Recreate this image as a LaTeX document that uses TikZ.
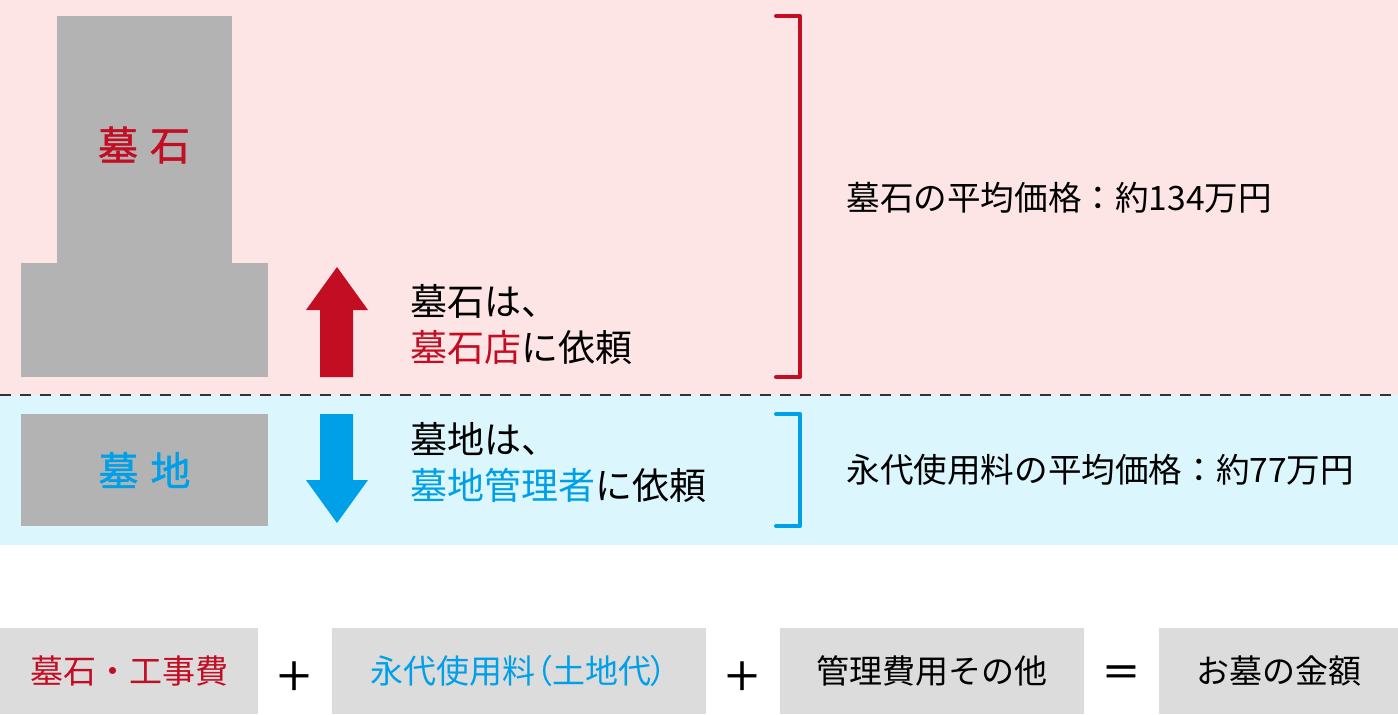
\documentclass[tikz,border=0pt]{standalone}
\usepackage{fontspec}
\setmainfont{Noto Sans CJK JP}
\newfontfamily\medfont{Noto Sans CJK JP}[FakeBold=1.2]
\usetikzlibrary{positioning}
\definecolor{hakaRed}{HTML}{C30D23}
\definecolor{hakaBlue}{HTML}{00A0E9}
\definecolor{pinkBg}{HTML}{FDE5E6}
\definecolor{blueBg}{HTML}{DBF7FD}
\definecolor{stone}{HTML}{B3B3B3}
\definecolor{boxGray}{HTML}{DCDCDC}
\begin{document}
\begin{tikzpicture}[x=0.5pt, y=-0.5pt,
		cost/.style={fill=boxGray, minimum height=43pt, inner sep=0pt, font=\fontsize{16.5}{20}\selectfont},
		op/.style={inner sep=0pt, font=\medfont\fontsize{19.5}{20}\selectfont},
		note/.style={align=left, anchor=west, inner sep=0pt, font=\fontsize{18.5}{23}\selectfont},
		price/.style={anchor=west, inner sep=0pt, font=\fontsize{16.8}{20}\selectfont},
		bracket/.style={line width=2pt, line cap=round, line join=round}]
	\useasboundingbox (0,0) rectangle (1398,714);
	\fill[pinkBg] (0,0) rectangle (1398,395);
	\fill[blueBg] (0,395) rectangle (1398,545);
	\draw[black!80, line width=1pt, dash pattern=on 5.5pt off 4.5pt] (0,395) -- (1398,395);

	\fill[stone] (57,16) rectangle (232,263);
	\fill[stone] (21,263) rectangle (268,377);
	\node[text=hakaRed, font=\medfont\fontsize{20}{20}\selectfont] (boseki) at (144,145) {墓\hspace{6pt}石};
	\node[fill=stone, minimum width=123.5pt, minimum height=56pt, inner sep=0pt, text=hakaBlue, font=\medfont\fontsize{20}{20}\selectfont] (bochi) at (144.5,470) {墓\hspace{6pt}地};

	\fill[hakaRed] (320,377) -- (320,310) -- (306,310) -- (337,267) -- (368,310) -- (353,310) -- (353,377) -- cycle;
	\fill[hakaBlue] (320,414) -- (320,480) -- (306,480) -- (337,523) -- (368,480) -- (353,480) -- (353,414) -- cycle;

	\node[note] (ishiNote) at (410,325) {墓石は、\\\textcolor{hakaRed}{墓石店}に依頼};
	\node[note] (chiNote) at (410,463) {墓地は、\\\textcolor{hakaBlue}{墓地管理者}に依頼};

	\draw[bracket, hakaRed] (776,16) -- (800,16) -- (800,377) -- (776,377);
	\draw[bracket, hakaBlue] (776,414) -- (800,414) -- (800,526) -- (776,526);
	\node[price] (ishiPrice) at (846,198) {墓石の平均価格：約134万円};
	\node[price] (chiPrice) at (846,470) {永代使用料の平均価格：約77万円};

	\node[cost, minimum width=129pt, text=hakaRed] (ishiCost) at (129,671) {墓石・工事費};
	\node[cost, minimum width=187pt, text=hakaBlue] (eitaiCost) at (519,671) {\addfontfeature{RawFeature=+palt}永代使用料（土地代）};
	\node[cost, minimum width=152pt] (kanriCost) at (932,671) {管理費用その他};
	\node[cost, minimum width=119.5pt] (kingaku) at (1278.5,671) {お墓の金額};
	\node[op] (plusA) at (294,676) {＋};
	\node[op] (plusB) at (742,676) {＋};
	\node[op] (equal) at (1121,676) {＝};
\end{tikzpicture}
\end{document}
